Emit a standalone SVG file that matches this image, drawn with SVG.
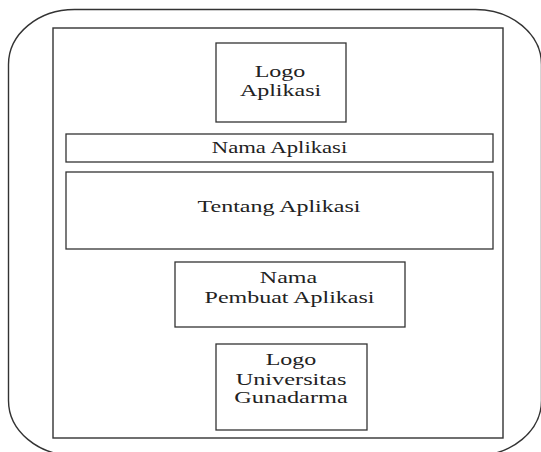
<svg xmlns="http://www.w3.org/2000/svg" width="541" height="452" viewBox="0 0 541 452">
<style>
.frame{fill:none;stroke:#333;stroke-width:1.4}
.box{fill:#fff;stroke:#333;stroke-width:1.3}
.t{font-family:"Liberation Serif","Times New Roman",serif;font-size:16px;fill:#222;text-anchor:middle}
</style>
<rect width="541" height="452" fill="#fff"/>
<g id="outer-frame">
<rect class="frame" x="8.5" y="9.5" width="533" height="446" rx="66" ry="55"/>
</g>
<g id="screen">
<rect class="frame" x="53" y="28" width="450" height="410"/>
</g>
<g id="logo-aplikasi">
<rect class="box" x="216" y="43" width="130" height="79"/>
<text class="t" transform="translate(280,77) scale(1.5,1)">Logo</text>
<text class="t" transform="translate(280.5,96) scale(1.5,1)">Aplikasi</text>
</g>
<g id="nama-aplikasi">
<rect class="box" x="66" y="134" width="427" height="28"/>
<text class="t" transform="translate(279.5,153) scale(1.42,1)">Nama Aplikasi</text>
</g>
<g id="tentang-aplikasi">
<rect class="box" x="66" y="172" width="427" height="77"/>
<text class="t" transform="translate(279,212) scale(1.5,1)">Tentang Aplikasi</text>
</g>
<g id="nama-pembuat">
<rect class="box" x="175" y="262" width="230" height="65"/>
<text class="t" transform="translate(288.5,283) scale(1.5,1)">Nama</text>
<text class="t" transform="translate(289.5,303) scale(1.5,1)">Pembuat Aplikasi</text>
</g>
<g id="logo-universitas">
<rect class="box" x="216" y="344" width="151" height="86"/>
<text class="t" transform="translate(291,365) scale(1.5,1)">Logo</text>
<text class="t" transform="translate(291,385) scale(1.52,1)">Universitas</text>
<text class="t" transform="translate(291,403) scale(1.52,1)">Gunadarma</text>
</g>
<g id="connectors"></g>
</svg>
